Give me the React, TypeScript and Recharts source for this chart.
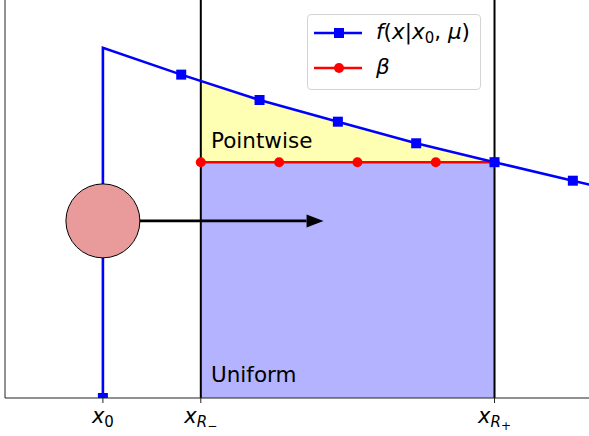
import {
  ComposedChart,
  Line,
  Area,
  XAxis,
  YAxis,
  ReferenceLine,
  ReferenceDot,
  Legend,
} from "recharts";

// f(x | x0, mu): vertical jump at x0, then decaying
const fX = [0, 0, 1, 2, 3, 4, 5, 6, 7];
const fY = [0, 3.52, 3.25, 2.995, 2.777, 2.56, 2.37, 2.184, 2.0];
const fMarked = [true, false, true, true, true, true, true, true, true];

// beta level between x_{R-} and x_{R+}
const betaX = [1.25, 2.25, 3.25, 4.25, 5];
const betaLevel = 2.37;

const pointwiseX = [1.25, 2, 3, 4, 5];
const pointwiseTop = [3.19, 2.995, 2.777, 2.56, 2.37];

const xRminus = 1.25;
const xRplus = 5;

const ballX = 0;
const ballY = 1.78;
const arrowEndX = 2.6;

const tickValues = [0, 1.25, 5];
const tickLabels = [
  ["x", "0", ""],
  ["x", "R", "−"],
  ["x", "R", "+"],
];

const FONT = "DejaVu Sans";

const fData = fX.map((x, i) => ({ x, y: fY[i], mark: fMarked[i] }));
const betaData = betaX.map((x) => ({ x, y: betaLevel }));
const yellowData = pointwiseX.map((x, i) => ({ x, band: [betaLevel, pointwiseTop[i]] }));
const blueData = pointwiseX.map((x) => ({ x, band: [0, betaLevel] }));
const arrowData = [
  { x: ballX, y: ballY },
  { x: arrowEndX, y: ballY },
];

function MathTick(props: any) {
  const { x, y, payload } = props;
  const i = tickValues.indexOf(payload.value);
  if (i < 0) return null;
  const [base, sub, subsub] = tickLabels[i];
  return (
    <text x={x} y={y + 18} textAnchor="middle" fontFamily={FONT} fontSize={21} fill="#000">
      <tspan fontStyle="italic">{base}</tspan>
      <tspan fontSize={15} dy={4} fontStyle={sub === "0" ? "normal" : "italic"}>
        {sub}
      </tspan>
      {subsub ? (
        <tspan fontSize={12} dy={3}>
          {subsub}
        </tspan>
      ) : null}
    </text>
  );
}

function Square(props: any) {
  const { cx, cy, payload } = props;
  if (!payload || !payload.mark) return <g />;
  return <rect x={cx - 5} y={cy - 5} width={10} height={10} fill="#0000ff" />;
}

function ArrowHead(props: any) {
  const { cx, cy, index } = props;
  if (index !== 1) return <g />;
  return <polygon points={`${cx + 17},${cy} ${cx},${cy - 6.5} ${cx},${cy + 6.5}`} fill="#000" />;
}

function LegendBox() {
  const row = (top: number, color: string, square: boolean, label: any) => (
    <div style={{ position: "absolute", left: 0, top, height: 30, width: "100%" }}>
      <svg width={60} height={30} style={{ position: "absolute", left: 0, top: 0 }}>
        <line x1={6} x2={54} y1={15} y2={15} stroke={color} strokeWidth={2.6} />
        {square ? (
          <rect x={26} y={10} width={10} height={10} fill={color} />
        ) : (
          <circle cx={31} cy={15} r={5} fill={color} />
        )}
      </svg>
      <div style={{ position: "absolute", left: 68, top: 0, lineHeight: "28px", whiteSpace: "nowrap" }}>
        {label}
      </div>
    </div>
  );
  return (
    <div
      style={{
        position: "relative",
        width: 174,
        height: 76,
        boxSizing: "border-box",
        border: "1px solid #d4d4d4",
        borderRadius: 4,
        background: "rgba(255,255,255,0.8)",
        fontFamily: FONT,
        fontSize: 21.5,
        color: "#000",
      }}
    >
      {row(3, "#0000ff", true,
        <span>
          <i>f</i>(<i>x</i>|<i>x</i>
          <span style={{ fontSize: 15, position: "relative", top: 4 }}>0</span>, <i>μ</i>)
        </span>
      )}
      {row(38, "#ff0000", false, <i>β</i>)}
    </div>
  );
}

export default function App() {
  return (
    <div
      style={{
        position: "absolute",
        left: 0,
        top: 0,
        width: 589,
        height: 436,
        overflow: "hidden",
        background: "#fff",
      }}
    >
      <ComposedChart width={612} height={436} margin={{ top: 0, right: 0, bottom: 0, left: 0 }}>
        <XAxis
          type="number"
          dataKey="x"
          domain={[-1.25, 6.5]}
          allowDataOverflow
          ticks={tickValues}
          tick={<MathTick />}
          tickSize={5}
          height={38}
          axisLine={{ stroke: "#222", strokeWidth: 1 }}
          tickLine={{ stroke: "#222", strokeWidth: 1 }}
        />
        <YAxis
          type="number"
          domain={[0, 4]}
          allowDataOverflow
          width={5}
          tick={false}
          tickLine={false}
          axisLine={{ stroke: "#222", strokeWidth: 1 }}
        />
        <Legend
          verticalAlign="middle"
          align="center"
          content={<LegendBox />}
          wrapperStyle={{ position: "absolute", top: 14, left: 307, width: "auto", height: "auto" }}
        />
        <Area
          data={blueData}
          dataKey="band"
          type="linear"
          stroke="none"
          fill="#b3b3ff"
          fillOpacity={1}
          isAnimationActive={false}
          legendType="none"
        />
        <Area
          data={yellowData}
          dataKey="band"
          type="linear"
          stroke="none"
          fill="#ffffb3"
          fillOpacity={1}
          isAnimationActive={false}
          legendType="none"
        />
        <ReferenceLine x={xRminus} stroke="#000" strokeWidth={2} />
        <ReferenceLine x={xRplus} stroke="#000" strokeWidth={2} />
        <ReferenceDot
          x={1.38}
          y={2.515}
          r={0}
          shape={(p: any) => (
            <text x={p.cx} y={p.cy} fontFamily={FONT} fontSize={21.5} fill="#000">
              Pointwise
            </text>
          )}
        />
        <ReferenceDot
          x={1.38}
          y={0.158}
          r={0}
          shape={(p: any) => (
            <text x={p.cx} y={p.cy} fontFamily={FONT} fontSize={21.5} fill="#000">
              Uniform
            </text>
          )}
        />
        <Line
          data={betaData}
          dataKey="y"
          type="linear"
          stroke="#ff0000"
          strokeWidth={2.6}
          dot={{ r: 5, fill: "#ff0000", stroke: "none" }}
          isAnimationActive={false}
        />
        <Line
          data={fData}
          dataKey="y"
          type="linear"
          stroke="#0000ff"
          strokeWidth={2.6}
          dot={<Square />}
          isAnimationActive={false}
        />
        <Line
          data={arrowData}
          dataKey="y"
          type="linear"
          stroke="#000"
          strokeWidth={2.6}
          dot={<ArrowHead />}
          isAnimationActive={false}
          legendType="none"
        />
        <ReferenceDot x={ballX} y={ballY} r={37} fill="#e99b9b" stroke="#000" strokeWidth={1} />
      </ComposedChart>
    </div>
  );
}
